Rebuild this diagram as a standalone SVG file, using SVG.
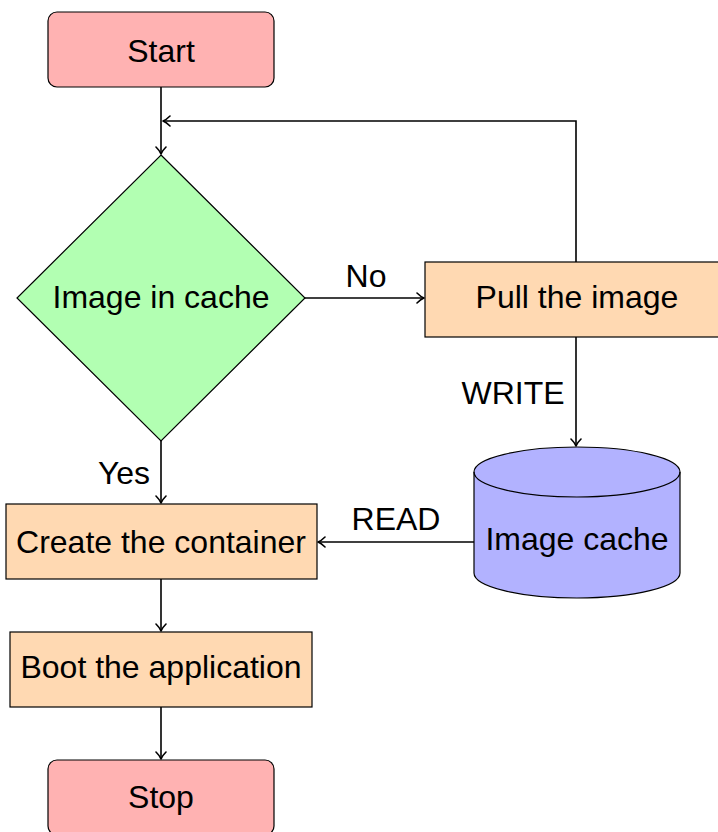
<svg xmlns="http://www.w3.org/2000/svg" width="718" height="832" viewBox="0 0 718 832">
<defs>
<marker id="arr" viewBox="-10 -6 12 12" refX="0" refY="0" markerWidth="12" markerHeight="12" markerUnits="userSpaceOnUse" orient="auto">
<path d="M-7,-5 Q-3,-1 0,0 Q-3,1 -7,5" fill="none" stroke="#000" stroke-width="1.6" stroke-linecap="round" stroke-linejoin="round"/>
</marker>
<style>
text{font-family:"Liberation Sans",Arial,sans-serif;font-size:32px;fill:#000;text-anchor:middle}
.n{stroke:#000;stroke-width:1.2}
.term{fill:#ffb2b2}
.proc{fill:#ffd9b2}
.dec{fill:#b2ffb2}
.db{fill:#b2b2ff}
.c{fill:none;stroke:#000;stroke-width:1.6}
</style>
</defs>
<g id="connectors">
<line class="c" x1="161" y1="87" x2="161" y2="154" marker-end="url(#arr)"/>
<polyline class="c" points="576,262 576,121 163,121" marker-end="url(#arr)"/>
<line class="c" x1="305" y1="298" x2="424" y2="298" marker-end="url(#arr)"/>
<text x="366" y="287">No</text>
<line class="c" x1="576" y1="337" x2="576" y2="446" marker-end="url(#arr)"/>
<text x="513" y="404">WRITE</text>
<line class="c" x1="474" y1="542" x2="318" y2="542" marker-end="url(#arr)"/>
<text x="396" y="530">READ</text>
<line class="c" x1="161" y1="441" x2="161" y2="503" marker-end="url(#arr)"/>
<text x="124" y="484">Yes</text>
<line class="c" x1="161" y1="579" x2="161" y2="631" marker-end="url(#arr)"/>
<line class="c" x1="161" y1="707" x2="161" y2="759" marker-end="url(#arr)"/>
</g>
<g id="start">
<rect class="n term" x="48" y="12" width="226" height="75" rx="9"/>
<text x="161" y="62">Start</text>
</g>
<g id="decision">
<polygon class="n dec" points="161,155 305,298 161,441 17,298"/>
<text x="161" y="308">Image in cache</text>
</g>
<g id="pull">
<rect class="n proc" x="425" y="262" width="304" height="75"/>
<text x="577" y="308">Pull the image</text>
</g>
<g id="cache">
<path class="n db" d="M474,472 L474,573 A103,25 0 0 0 680,573 L680,472 A103,25 0 0 0 474,472 Z"/>
<path class="n" fill="none" d="M474,472 A103,25 0 0 0 680,472"/>
<text x="577" y="550">Image cache</text>
</g>
<g id="create">
<rect class="n proc" x="6" y="504" width="311" height="75"/>
<text x="161" y="553">Create the container</text>
</g>
<g id="boot">
<rect class="n proc" x="10" y="632" width="302" height="75"/>
<text x="161" y="678">Boot the application</text>
</g>
<g id="stop">
<rect class="n term" x="48" y="760" width="226" height="75" rx="9"/>
<text x="161" y="808">Stop</text>
</g>
</svg>
